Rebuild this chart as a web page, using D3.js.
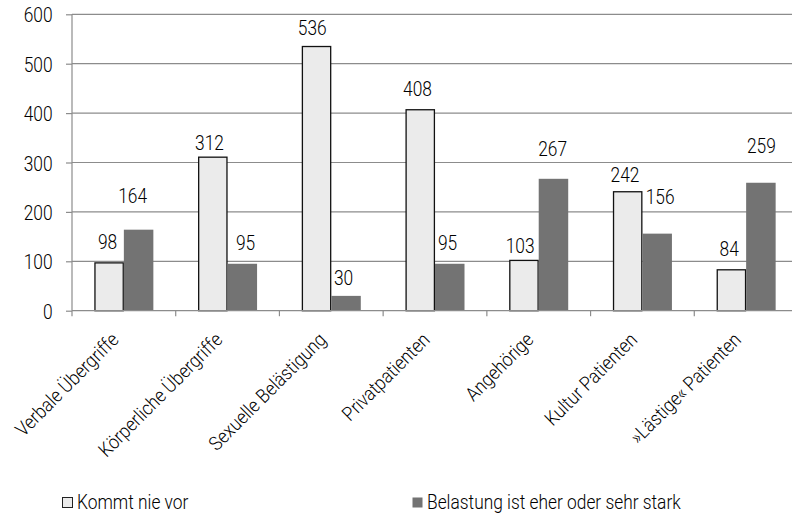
<!DOCTYPE html>
<html>
<head>
<meta charset="utf-8">
<script src="https://cdn.jsdelivr.net/npm/d3@7"></script>
<style>
  html, body { margin: 0; padding: 0; background: #fff; }
  svg { display: block; }
  text { font-family: Roboto, "Liberation Sans", sans-serif; font-weight: 300; fill: #000; }
</style>
</head>
<body>
<svg id="chart" width="792" height="514"></svg>
<script>
// Categories and the two answer series
const categories = [
  "Verbale Übergriffe",
  "Körperliche Übergriffe",
  "Sexuelle Belästigung",
  "Privatpatienten",
  "Angehörige",
  "Kultur Patienten",
  "»Lästige« Patienten"
];
const neverValues  = [98, 312, 536, 408, 103, 242, 84];
const burdenValues = [164, 95, 30, 95, 267, 156, 259];
const seriesNames  = ["Kommt nie vor", "Belastung ist eher oder sehr stark"];
const yTicks = [0, 100, 200, 300, 400, 500, 600];

// Hand-placed value labels: horizontal nudge and lift above the bar top (px)
const labelNudge = [
  [-1.5, -3.3, -4.3, -2.7, -3.8, -2.7, -2.2],
  [-6, 3.2, -2.5, -2.2, -0.8, 3, 0.5]
];
const labelLift = [
  [13, 6.7, 10.7, 13, 6.6, 9, 13],
  [26.4, 13.3, 11, 13.3, 23, 29.7, 29.3]
];

const series = [
  { name: seriesNames[0], values: neverValues,  fill: "#ebebeb", stroke: "#111" },
  { name: seriesNames[1], values: burdenValues, fill: "#737373", stroke: "none" }
];

// Condensed look: text is squeezed horizontally along its own baseline
const FONT = 19.5, SQUEEZE = 0.89;

const svg = d3.select("#chart");
const plotLeft = 72, plotRight = 798, plotTop = 14.3, plotBottom = 310.7;
const step = (plotRight - plotLeft) / categories.length;
const pairWidth = 59;
const pad = 1 - pairWidth / step;

const x = d3.scaleBand().domain(categories).range([plotLeft, plotRight])
  .paddingInner(pad).paddingOuter(pad / 2);
const xs = d3.scaleBand().domain([0, 1]).range([0, x.bandwidth()]);
const y = d3.scaleLinear().domain([0, 600]).range([plotBottom, plotTop]);

// Horizontal gridlines
svg.append("g").selectAll("line").data(yTicks.slice(1)).join("line")
  .attr("x1", plotLeft).attr("x2", plotRight)
  .attr("y1", d => y(d)).attr("y2", d => y(d))
  .attr("stroke", "#8c8c8c").attr("stroke-width", 1.2);

// Y axis
const yAxis = svg.append("g").attr("transform", `translate(${plotLeft},0)`)
  .call(d3.axisLeft(y).tickValues(yTicks).tickSize(6).tickPadding(19));
yAxis.attr("font-family", null).attr("font-size", null);
yAxis.select(".domain").attr("stroke", "#8c8c8c").attr("stroke-width", 1.2)
  .attr("d", `M0,${plotTop}V${plotBottom}`);
yAxis.selectAll(".tick line").attr("stroke", "#8c8c8c").attr("stroke-width", 1.2);
yAxis.selectAll(".tick text")
  .attr("transform", `translate(-19.5,7.6) scale(${SQUEEZE},1)`)
  .attr("x", 0).attr("dy", null)
  .attr("font-size", FONT).attr("fill", "#000");

// Bars and their value labels
series.forEach((s, si) => {
  const g = svg.append("g");
  const inset = s.stroke !== "none" ? 0.6 : 0;
  g.selectAll("rect").data(s.values).join("rect")
    .attr("x", (d, i) => x(categories[i]) + xs(si) + inset)
    .attr("y", d => y(d) + inset)
    .attr("width", xs.bandwidth() - 2 * inset)
    .attr("height", d => y(0) - y(d) - inset)
    .attr("fill", s.fill)
    .attr("stroke", s.stroke)
    .attr("stroke-width", 1.3);
  g.selectAll("text").data(s.values).join("text")
    .attr("transform", (d, i) => {
      const tx = x(categories[i]) + xs(si) + xs.bandwidth() / 2 + labelNudge[si][i];
      const ty = y(d) - labelLift[si][i];
      return `translate(${tx},${ty}) scale(${SQUEEZE},1)`;
    })
    .attr("text-anchor", "middle")
    .attr("font-size", FONT)
    .text(d => d);
});

// X axis line and category boundary ticks
svg.append("line").attr("x1", plotLeft).attr("x2", plotRight)
  .attr("y1", plotBottom).attr("y2", plotBottom)
  .attr("stroke", "#8c8c8c").attr("stroke-width", 1.2);
svg.append("g").selectAll("line").data(d3.range(0, categories.length + 1)).join("line")
  .attr("x1", i => plotLeft + i * step).attr("x2", i => plotLeft + i * step)
  .attr("y1", plotBottom).attr("y2", plotBottom + 5.5)
  .attr("stroke", "#8c8c8c").attr("stroke-width", 1.2);

// Rotated category labels
svg.append("g").selectAll("text").data(categories).join("text")
  .attr("transform", d => `translate(${x(d) + x.bandwidth() / 2 - 4},341) rotate(-45) scale(${SQUEEZE},1)`)
  .attr("text-anchor", "end")
  .attr("font-size", FONT)
  .text(d => d);

// Legend
const legendItems = [
  { x: 62, s: series[0] },
  { x: 412, s: series[1] }
];
const lg = svg.append("g");
legendItems.forEach(it => {
  lg.append("rect")
    .attr("x", it.x + 0.5).attr("y", 497.5).attr("width", 10).attr("height", 10)
    .attr("fill", it.s.fill)
    .attr("stroke", it.s.stroke === "none" ? "none" : "#222")
    .attr("stroke-width", 1);
  lg.append("text")
    .attr("transform", `translate(${it.x + 15},508.5) scale(${SQUEEZE},1)`)
    .attr("font-size", FONT)
    .text(it.s.name);
});
</script>
</body>
</html>
